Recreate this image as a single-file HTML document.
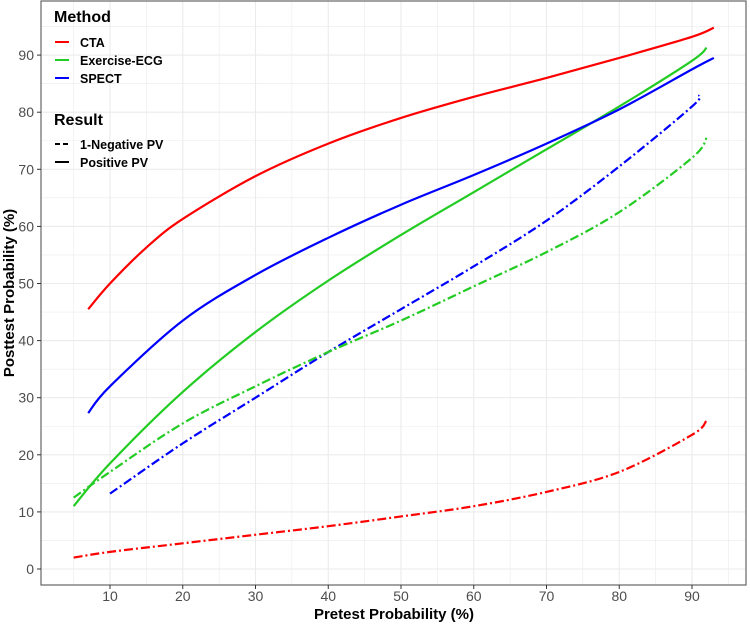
<!DOCTYPE html>
<html><head><meta charset="utf-8"><style>
body{margin:0;background:#fff;}
svg text{font-family:"Liberation Sans",sans-serif;}
</style></head><body>
<svg width="750" height="624" viewBox="0 0 750 624" xmlns="http://www.w3.org/2000/svg">
<g id="grid"></g>
<g id="series"></g>
<rect x="41" y="1" width="705" height="584" fill="none" stroke="#666" stroke-width="1.2"/>
<g id="axes"></g>
<text x="394" y="619" text-anchor="middle" font-size="15" font-weight="bold">Pretest Probability (%)</text>
<text transform="translate(14,293) rotate(-90)" text-anchor="middle" font-size="15" font-weight="bold">Posttest Probability (%)</text>
<g>
<text x="54" y="22" font-size="16" font-weight="bold">Method</text>
<line x1="55" y1="42" x2="69" y2="42" stroke="#ff0000" stroke-width="2"/>
<text x="80" y="47" font-size="12.5" font-weight="bold">CTA</text>
<line x1="55" y1="60" x2="69" y2="60" stroke="#22cc22" stroke-width="2"/>
<text x="80" y="65" font-size="12.5" font-weight="bold">Exercise-ECG</text>
<line x1="55" y1="78" x2="69" y2="78" stroke="#0000ff" stroke-width="2"/>
<text x="80" y="83" font-size="12.5" font-weight="bold">SPECT</text>
<text x="54" y="125" font-size="16" font-weight="bold">Result</text>
<line x1="55" y1="144" x2="69" y2="144" stroke="#000" stroke-width="2" stroke-dasharray="5,3"/>
<text x="80" y="149" font-size="12.5" font-weight="bold">1-Negative PV</text>
<line x1="55" y1="162" x2="69" y2="162" stroke="#000" stroke-width="2"/>
<text x="80" y="167" font-size="12.5" font-weight="bold">Positive PV</text>
</g>
</svg>
<script>
const xTicks=[10,20,30,40,50,60,70,80,90];
const yTicks=[0,10,20,30,40,50,60,70,80,90];
const ctaPosX=[7,10,15,20,30,40,50,60,70,80,90,93];
const ctaPosY=[45.5,50,56.3,61.3,68.8,74.5,79,82.7,86,89.5,93.2,94.8];
const ecgPosX=[5,10,20,30,40,50,60,70,80,90,92];
const ecgPosY=[11,18.5,31,41.5,50.5,58.5,66,73.5,81,89,91.3];
const spectPosX=[7,10,20,30,40,50,60,70,80,90,93];
const spectPosY=[27.3,32,43.5,51.5,58,63.8,69,74.5,80.5,87.5,89.5];
const spectNegX=[10,20,30,40,50,60,70,80,90,91];
const spectNegY=[13.2,22,30,38,45.5,53,61,70.5,81,83];
const ecgNegX=[5,10,20,30,40,50,60,70,80,90,92];
const ecgNegY=[12.5,17,25.5,32,38,43.5,49.5,55.5,62.5,72,75.5];
const ctaNegX=[5,10,20,30,40,50,60,70,80,90,92];
const ctaNegY=[2,3,4.5,6,7.5,9.2,11,13.5,17,23.5,26];
const NS="http://www.w3.org/2000/svg";
const sx=v=>37.25+v*7.275;
const sy=v=>569-v*5.71;
function mk(t,a,p){const e=document.createElementNS(NS,t);for(const k in a)e.setAttribute(k,a[k]);p.appendChild(e);return e;}
const grid=document.getElementById('grid'),axes=document.getElementById('axes'),ser=document.getElementById('series');
for(let v=5;v<=95;v+=5){const x=sx(v);if(x<41||x>746)continue;
 const l=mk('line',{x1:x,x2:x,y1:1,y2:585,stroke:'#ebebeb','stroke-width':v%10?0.6:1.1},grid);
 }
for(let v=-5;v<=100;v+=5){const y=sy(v);if(y<1||y>585)continue;
 const l=mk('line',{x1:41,x2:746,y1:y,y2:y,stroke:'#ebebeb','stroke-width':v%10?0.6:1.1},grid);
 }
xTicks.forEach(v=>{const x=sx(v);mk('line',{x1:x,x2:x,y1:585,y2:589,stroke:'#333'},axes);
 const t=mk('text',{x:x,y:601,'text-anchor':'middle','font-size':14,fill:'#4d4d4d'},axes);t.textContent=v;
 });
yTicks.forEach(v=>{const y=sy(v);mk('line',{x1:37,x2:41,y1:y,y2:y,stroke:'#333'},axes);
 const t=mk('text',{x:34,y:y+5,'text-anchor':'end','font-size':14,fill:'#4d4d4d'},axes);t.textContent=v;
 });
function path(xs,ys){const p=xs.map((x,i)=>[sx(x),sy(ys[i])]);let d='M'+p[0];
 for(let i=0;i<p.length-1;i++){const p0=p[i-1]||p[i],p1=p[i],p2=p[i+1],p3=p[i+2]||p2;
  d+=' C'+(p1[0]+(p2[0]-p0[0])/6)+','+(p1[1]+(p2[1]-p0[1])/6)+' '+(p2[0]-(p3[0]-p1[0])/6)+','+(p2[1]-(p3[1]-p1[1])/6)+' '+p2;}
 return d;}
function line(xs,ys,c,dash,name){const e=mk('path',{d:path(xs,ys),fill:'none',stroke:c,'stroke-width':2.2},ser);
 if(dash)e.setAttribute('stroke-dasharray','9,3,2,3');
 }
line(ctaPosX,ctaPosY,'#ff0000',false,'cta-positive-line');
line(ecgPosX,ecgPosY,'#22cc22',false,'ecg-positive-line');
line(spectPosX,spectPosY,'#0000ff',false,'spect-positive-line');
line(spectNegX,spectNegY,'#0000ff',true,'spect-negative-line');
line(ecgNegX,ecgNegY,'#22cc22',true,'ecg-negative-line');
line(ctaNegX,ctaNegY,'#ff0000',true,'cta-negative-line');
</script>
</body></html>
